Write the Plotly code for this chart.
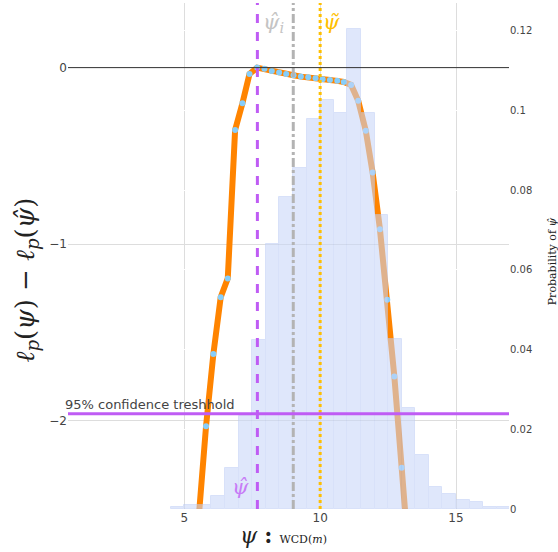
import plotly.graph_objects as go

# Profile likelihood curve (psi, l_p(psi) - l_p(psi_hat))
psi_vals = [5.53, 5.80, 6.07, 6.34, 6.60, 6.87, 7.14, 7.40, 7.68, 7.95, 8.22, 8.49,
            8.75, 9.02, 9.29, 9.56, 9.83, 10.09, 10.36, 10.63, 10.87, 11.14, 11.40,
            11.68, 11.93, 12.20, 12.47, 12.73, 13.00, 13.27]
loglik_vals = [-2.55, -2.032, -1.622, -1.30, -1.194, -0.353, -0.202, -0.036, 0.0,
               -0.007, -0.019, -0.028, -0.036, -0.043, -0.051, -0.054, -0.060, -0.066,
               -0.070, -0.075, -0.081, -0.098, -0.188, -0.358, -0.594, -0.915, -1.315,
               -1.749, -2.267, -2.79]

# Histogram of psi estimates (bin starts, width 0.5, probability)
bin_starts = [4.5, 5.0, 5.5, 6.0, 6.5, 7.0, 7.5, 8.0, 8.5, 9.0, 9.5, 10.0, 10.5,
              11.0, 11.5, 12.0, 12.5, 13.0, 13.5, 14.0, 14.5, 15.0, 15.5, 16.0, 16.5]
bin_probs = [0.0005, 0.001, 0.001, 0.0032, 0.0103, 0.0234, 0.0424, 0.0664, 0.0782,
             0.0856, 0.0978, 0.1026, 0.0993, 0.1206, 0.0993, 0.0739, 0.0426, 0.0253,
             0.0136, 0.0054, 0.0038, 0.0023, 0.0017, 0.0005, 0.0005]
bin_width = 0.5

psi_hat = 7.69
psi_hat_i = 9.01
psi_tilde = 10.0
threshold = -1.96

PURPLE = "#bf5cf4"
GRAY = "#b3b3b3"
YELLOW = "#ffbf00"
ORANGE = "#ff8400"

fig = go.Figure()

fig.add_trace(go.Scatter(
    x=psi_vals, y=loglik_vals, mode="lines+markers",
    line=dict(color=ORANGE, width=6),
    marker=dict(color="lightskyblue", size=6),
    showlegend=False, xaxis="x", yaxis="y"))

fig.add_trace(go.Bar(
    x=[b + bin_width / 2 for b in bin_starts], y=bin_probs, width=bin_width,
    marker=dict(color="rgb(200,214,248)", line=dict(color="rgb(188,204,246)", width=1)),
    opacity=0.57, showlegend=False, xaxis="x", yaxis="y2"))

# vertical reference lines
for xv, col, dash in [(psi_hat, PURPLE, "dash"), (psi_hat_i, GRAY, "dashdot"),
                      (psi_tilde, YELLOW, "dot")]:
    fig.add_shape(type="line", xref="x", yref="paper", x0=xv, x1=xv, y0=0, y1=1,
                  line=dict(color=col, width=3, dash=dash), layer="above")

# zero line and threshold
fig.add_shape(type="line", xref="paper", yref="y", x0=0, x1=1, y0=0, y1=0,
              line=dict(color="#333333", width=1), layer="above")
fig.add_shape(type="line", xref="paper", yref="y", x0=0, x1=1, y0=threshold, y1=threshold,
              line=dict(color=PURPLE, width=3), layer="above")

serif = "DejaVu Serif"
sans = "DejaVu Sans"
ann = [
    dict(text="95% confidence treshhold", xref="paper", yref="y", x=-0.012, y=threshold,
         xanchor="left", yanchor="bottom", showarrow=False,
         font=dict(family=sans, size=13, color="#444")),
    dict(text="<i>ψ̂</i><sub><i>i</i></sub>", xref="x", yref="paper", x=psi_hat_i - 0.25, y=0.99,
         xanchor="right", yanchor="top", showarrow=False,
         font=dict(family=serif, size=21, color="#c4c4c4")),
    dict(text="<i>ψ̃</i>", xref="x", yref="paper", x=psi_tilde + 0.02, y=0.99,
         xanchor="left", yanchor="top", showarrow=False,
         font=dict(family=serif, size=21, color=YELLOW)),
    dict(text="<i>ψ̂</i>", xref="x", yref="paper", x=psi_hat - 0.22, y=0.015,
         xanchor="right", yanchor="bottom", showarrow=False,
         font=dict(family=serif, size=21, color="#c77cf6")),
    dict(text="<i>ψ</i> <b>:</b> <span style='font-size:11px'>WCD(<i>m</i>)</span>",
         xref="paper", yref="paper", x=0.488, y=-0.052, xanchor="center", yanchor="middle",
         showarrow=False, font=dict(family=serif, size=22, color="#222")),
    dict(text="<i>ℓ</i><sub><i>p</i></sub>(<i>ψ</i>) − <i>ℓ</i><sub><i>p</i></sub>(<i>ψ̂</i>)",
         xref="paper", yref="paper", x=-0.095, y=0.452, xanchor="center", yanchor="middle",
         textangle=-90, showarrow=False, font=dict(family=serif, size=26, color="#222")),
    dict(text="Probability of <i>ψ̂</i>", xref="paper", yref="paper", x=1.098, y=0.49,
         xanchor="center", yanchor="middle", textangle=-90, showarrow=False,
         font=dict(family=serif, size=11, color="#222")),
]

fig.update_layout(
    width=558, height=552,
    margin=dict(l=68, r=49, t=3, b=43),
    paper_bgcolor="white", plot_bgcolor="white",
    template="none",
    font=dict(family=sans, color="#444"),
    bargap=0,
    annotations=ann,
    xaxis=dict(range=[0.72, 16.95], tickvals=[5, 10, 15], showgrid=True, gridcolor="#dddddd",
               zeroline=False, showline=False, ticks="", tickfont=dict(size=12)),
    yaxis=dict(range=[-2.5, 0.366], tickvals=[0, -1, -2], ticktext=["0", "−1", "−2"],
               showgrid=True, gridcolor="#dddddd", zeroline=False, showline=False,
               ticks="", tickfont=dict(size=12)),
    yaxis2=dict(range=[0, 0.127], overlaying="y", side="right",
                tickvals=[0, 0.02, 0.04, 0.06, 0.08, 0.1, 0.12],
                ticktext=["0", "0.02", "0.04", "0.06", "0.08", "0.1", "0.12"],
                showgrid=True, gridcolor="white", zeroline=False, showline=False, ticks="",
                tickfont=dict(size=10)),
)

fig.write_html("out.html")
